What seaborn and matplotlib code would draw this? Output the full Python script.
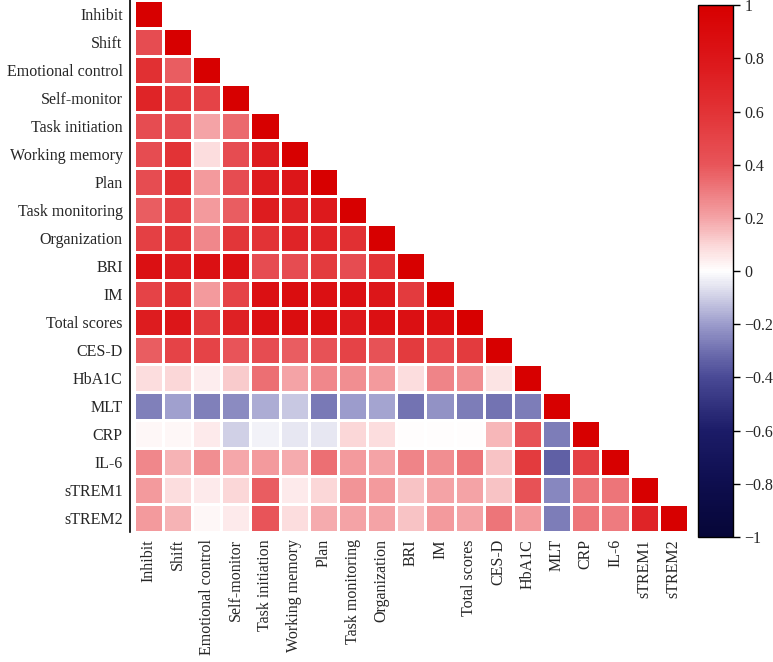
import numpy as np
import pandas as pd
import seaborn as sns
import matplotlib.pyplot as plt
from matplotlib.colors import LinearSegmentedColormap

labels = ['Inhibit', 'Shift', 'Emotional control', 'Self-monitor', 'Task initiation',
          'Working memory', 'Plan', 'Task monitoring', 'Organization', 'BRI', 'IM',
          'Total scores', 'CES-D', 'HbA1C', 'MLT', 'CRP', 'IL-6', 'sTREM1', 'sTREM2']

# lower triangle of the correlation matrix, read row by row
lower_rows = [
    [1],
    [0.45, 1],
    [0.62, 0.38, 1],
    [0.70, 0.55, 0.50, 1],
    [0.45, 0.45, 0.20, 0.35, 1],
    [0.45, 0.60, 0.08, 0.45, 0.75, 1],
    [0.45, 0.62, 0.22, 0.45, 0.75, 0.80, 1],
    [0.38, 0.52, 0.22, 0.38, 0.75, 0.72, 0.78, 1],
    [0.52, 0.58, 0.27, 0.58, 0.60, 0.70, 0.70, 0.62, 1],
    [0.85, 0.75, 0.85, 0.85, 0.45, 0.45, 0.55, 0.45, 0.60, 1],
    [0.50, 0.62, 0.22, 0.50, 0.85, 0.88, 0.85, 0.85, 0.80, 0.55, 1],
    [0.75, 0.80, 0.55, 0.72, 0.85, 0.88, 0.88, 0.78, 0.85, 0.85, 0.88, 1],
    [0.38, 0.50, 0.50, 0.40, 0.45, 0.38, 0.42, 0.50, 0.42, 0.55, 0.48, 0.55, 1],
    [0.08, 0.10, 0.04, 0.12, 0.33, 0.20, 0.27, 0.25, 0.22, 0.08, 0.28, 0.25, 0.07, 1],
    [-0.26, -0.19, -0.26, -0.24, -0.17, -0.11, -0.28, -0.20, -0.18, -0.29, -0.22, -0.27, -0.29, -0.27, 1],
    [0.02, 0.02, 0.05, -0.10, -0.03, -0.05, -0.05, 0.10, 0.08, 0.0, 0.0, 0.0, 0.16, 0.42, -0.27, 1],
    [0.27, 0.17, 0.25, 0.19, 0.22, 0.18, 0.33, 0.22, 0.20, 0.28, 0.25, 0.32, 0.14, 0.55, -0.34, 0.52, 1],
    [0.22, 0.08, 0.05, 0.10, 0.38, 0.05, 0.10, 0.24, 0.22, 0.14, 0.20, 0.20, 0.14, 0.42, -0.25, 0.32, 0.32, 1],
    [0.22, 0.17, 0.02, 0.05, 0.40, 0.08, 0.18, 0.20, 0.20, 0.14, 0.22, 0.20, 0.32, 0.22, -0.27, 0.32, 0.30, 0.70, 1],
]

n = len(labels)
mat = np.full((n, n), np.nan)
for i, row in enumerate(lower_rows):
    mat[i, :len(row)] = row
corr = pd.DataFrame(mat, index=labels, columns=labels)
mask = np.triu(np.ones((n, n), dtype=bool), k=1)

# blue - white - red scale like the figure
cmap = LinearSegmentedColormap.from_list('bwr_fig', [
    (0.00, '#060638'), (0.10, '#0e0e4e'), (0.20, '#1c1c68'), (0.30, '#4a4a96'),
    (0.35, '#7070b0'), (0.40, '#9c9ccc'), (0.45, '#cfcfe6'), (0.50, '#ffffff'),
    (0.55, '#fbd6d7'), (0.60, '#f4a3a6'), (0.70, '#e8555a'), (0.80, '#e23336'),
    (0.90, '#dc1619'), (1.00, '#d70000')])

sns.set_style('white')
plt.rcParams['font.family'] = ['Liberation Serif', 'DejaVu Serif']

fig = plt.figure(figsize=(7.73, 6.62), dpi=100)
ax = fig.add_axes([0.173, 0.196, 0.717, 0.804])
cax = fig.add_axes([0.903, 0.189, 0.045, 0.803])

sns.heatmap(corr, mask=mask, cmap=cmap, vmin=-1, vmax=1, linewidths=0.8,
            linecolor='white', ax=ax, cbar_ax=cax)

ax.tick_params(length=0, labelsize=11.5, pad=5)
ax.set_xticklabels(labels, rotation=90)
ax.set_yticklabels(labels, rotation=0)
ax.spines['left'].set_visible(True)
ax.spines['left'].set_position(('outward', 3))
ax.spines['left'].set_color('black')
ax.spines['left'].set_linewidth(1.2)

ticks = [1, 0.8, 0.6, 0.4, 0.2, 0, -0.2, -0.4, -0.6, -0.8, -1]
cax.set_yticks(ticks)
cax.set_yticklabels(['1', '0.8', '0.6', '0.4', '0.2', '0',
                     '\u22120.2', '\u22120.4', '\u22120.6', '\u22120.8', '\u22121'])
cax.tick_params(length=5, width=1, direction='out', labelsize=11.5, color='black')
cb = ax.collections[0].colorbar
cb.outline.set_visible(True)
cb.outline.set_edgecolor('black')
cb.outline.set_linewidth(1)

fig.savefig('out.png', dpi=100)
